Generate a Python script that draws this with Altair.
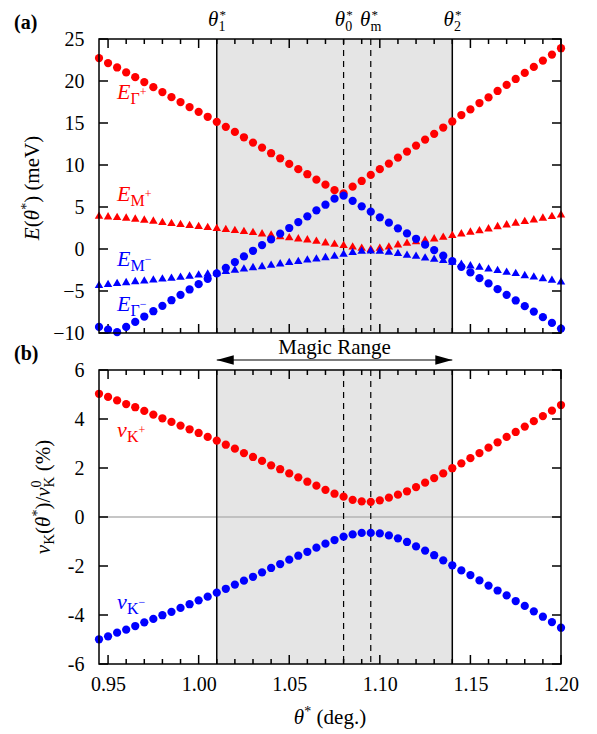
import altair as alt
import pandas as pd

# ---------------- data ----------------
theta_deg = [0.945, 0.950, 0.955, 0.960, 0.965, 0.970, 0.975, 0.980, 0.985, 0.990,
             0.995, 1.000, 1.005, 1.010, 1.015, 1.020, 1.025, 1.030, 1.035, 1.040,
             1.045, 1.050, 1.055, 1.060, 1.065, 1.070, 1.075, 1.080, 1.085, 1.090,
             1.095, 1.100, 1.105, 1.110, 1.115, 1.120, 1.125, 1.130, 1.135, 1.140,
             1.145, 1.150, 1.155, 1.160, 1.165, 1.170, 1.175, 1.180, 1.185, 1.190,
             1.195, 1.200]

E_Gamma_plus = [22.73, 22.13, 21.61, 21.02, 20.46, 19.87, 19.27, 18.68, 18.08, 17.49,
                16.89, 16.33, 15.74, 15.14, 14.54, 13.94, 13.30, 12.67, 12.07, 11.40,
                10.80, 10.13, 9.50, 8.90, 8.25, 7.66, 7.00, 6.63, 7.42, 8.10,
                8.82, 9.50, 10.17, 10.88, 11.60, 12.31, 13.03, 13.71, 14.46, 15.18,
                15.95, 16.62, 17.38, 18.05, 18.81, 19.53, 20.24, 20.96, 21.68, 22.43,
                23.14, 23.90]

E_Gamma_minus = [-9.28, -9.59, -9.90, -9.28, -8.68, -8.04, -7.41, -6.77, -6.10, -5.46,
                 -4.82, -4.19, -3.55, -2.91, -2.24, -1.56, -0.88, -0.21, 0.47, 1.14,
                 1.83, 2.50, 3.20, 3.89, 4.60, 5.27, 5.99, 6.35, 5.73, 5.08,
                 4.44, 3.77, 3.13, 2.46, 1.86, 1.22, 0.52, -0.13, -0.80, -1.44,
                 -2.12, -2.79, -3.47, -4.10, -4.78, -5.46, -6.13, -6.81, -7.45, -8.12,
                 -8.80, -9.47]

E_M_plus = [4.04, 3.96, 3.89, 3.81, 3.69, 3.57, 3.45, 3.29, 3.17, 3.05,
            2.93, 2.82, 2.70, 2.58, 2.46, 2.34, 2.22, 2.10, 1.93, 1.78,
            1.60, 1.47, 1.34, 1.22, 1.06, 0.86, 0.70, 0.55, 0.38, 0.23,
            0.07, 0.23, 0.38, 0.62, 0.82, 1.00, 1.17, 1.34, 1.54, 1.74,
            1.93, 2.14, 2.30, 2.53, 2.80, 3.01, 3.21, 3.41, 3.60, 3.81,
            4.01, 4.20]

E_M_minus = [-4.22, -4.10, -3.98, -3.87, -3.75, -3.67, -3.55, -3.43, -3.35, -3.23,
             -3.11, -2.96, -2.84, -2.72, -2.55, -2.40, -2.24, -2.08, -1.96, -1.80,
             -1.64, -1.48, -1.36, -1.17, -1.05, -0.89, -0.73, -0.49, -0.29, -0.13,
             -0.09, -0.13, -0.25, -0.41, -0.61, -0.73, -0.93, -1.09, -1.24, -1.44,
             -1.70, -1.88, -2.04, -2.24, -2.43, -2.64, -2.79, -3.03, -3.20, -3.39,
             -3.59, -3.80]

v_K_plus = [5.03, 4.90, 4.76, 4.61, 4.48, 4.33, 4.18, 4.03, 3.88, 3.73,
            3.58, 3.43, 3.27, 3.12, 2.95, 2.79, 2.61, 2.45, 2.29, 2.11,
            1.95, 1.78, 1.62, 1.44, 1.28, 1.11, 0.95, 0.83, 0.70, 0.64,
            0.62, 0.68, 0.79, 0.91, 1.05, 1.22, 1.40, 1.59, 1.78, 1.99,
            2.19, 2.40, 2.61, 2.83, 3.05, 3.27, 3.47, 3.69, 3.91, 4.12,
            4.34, 4.57]

v_K_minus = [-4.99, -4.87, -4.72, -4.60, -4.45, -4.30, -4.16, -4.01, -3.87, -3.71,
             -3.56, -3.40, -3.25, -3.09, -2.93, -2.76, -2.60, -2.44, -2.26, -2.08,
             -1.92, -1.74, -1.58, -1.42, -1.25, -1.09, -0.94, -0.80, -0.71, -0.65,
             -0.65, -0.67, -0.75, -0.87, -1.02, -1.20, -1.37, -1.56, -1.77, -1.97,
             -2.18, -2.37, -2.59, -2.80, -3.00, -3.20, -3.43, -3.63, -3.85, -4.07,
             -4.29, -4.52]

theta_solid = [1.01, 1.14]          # theta_1*, theta_2*
theta_dashed = [1.08, 1.095]        # theta_0*, theta_m*
magic_range = [1.01, 1.14]
x_major = [0.95, 1.00, 1.05, 1.10, 1.15, 1.20]
x_minor = [0.96, 0.97, 0.98, 0.99, 1.01, 1.02, 1.03, 1.04, 1.06, 1.07,
           1.08, 1.09, 1.11, 1.12, 1.13, 1.14, 1.16, 1.17, 1.18, 1.19]
yA_ticks = [-10, -5, 0, 5, 10, 15, 20, 25]
yB_ticks = [-6, -4, -2, 0, 2, 4, 6]

# ---------------- style ----------------
W, H = 462, 294
SERIF = "Liberation Serif"
RED, BLUE = "#ff0000", "#0000ff"
SHADE = "#e5e5e5"

xscale = alt.Scale(domain=[0.945, 1.20], nice=False, zero=False)
yscaleA = alt.Scale(domain=[-10, 25], nice=False, zero=False)
yscaleB = alt.Scale(domain=[-6, 6], nice=False, zero=False)

axis_common = dict(labelFont=SERIF, labelFontSize=20, labelColor="black",
                   ticks=False, tickSize=0, domain=False, grid=False, title=None,
                   labelOverlap=False, labelFlush=False)
yaxisA = alt.Axis(values=yA_ticks, labelPadding=15, **axis_common)
yaxisB = alt.Axis(values=yB_ticks, labelPadding=15,
                  labelExpr="datum.value < 0 ? '-' + format(-datum.value, 'd') : format(datum.value, 'd')",
                  **axis_common)
xaxisB = alt.Axis(values=x_major, format=".2f", labelPadding=10, **axis_common)

dummy = pd.DataFrame({"a": [0]})

WID = {
    ("n", " "): 0.25, ("n", "("): 0.333, ("n", ")"): 0.333, ("n", "*"): 0.5,
    ("n", "/"): 0.278, ("n", "%"): 0.833, ("n", "."): 0.25, ("n", "d"): 0.5,
    ("n", "e"): 0.444, ("n", "g"): 0.5, ("n", "m"): 0.778, ("n", "V"): 0.722,
    ("n", "K"): 0.722, ("n", "M"): 0.889, ("n", "Γ"): 0.578, ("n", "+"): 0.564,
    ("n", "−"): 0.564, ("i", "E"): 0.611, ("i", "θ"): 0.5, ("i", "v"): 0.444,
}


def P(t, s, it=False, dy=0, adv=True, ox=0):
    return dict(t=t, s=s, it=it, dy=dy, adv=adv, ox=ox)


def pw(p):
    st = "i" if p["it"] else "n"
    return sum(WID.get((st, ch), 0.5) for ch in p["t"]) * p["s"]


def rich(df, xenc, yenc, pieces, align="center", angle=0, color="black"):
    total = sum(pw(p) for p in pieces if p["adv"])
    cur = -total / 2 if align == "center" else 0.0
    out = []
    for p in pieces:
        txt = p["t"]
        lead = len(txt) - len(txt.lstrip(" "))
        shift = lead * WID[("n", " ")] * p["s"]
        kw = dict(text=txt.lstrip(" "), font=SERIF, fontSize=p["s"], align="left",
                  baseline="alphabetic", color=color, dx=cur + p["ox"] + shift, dy=p["dy"])
        if p["it"]:
            kw["fontStyle"] = "italic"
        if angle:
            kw["angle"] = angle
        out.append(alt.Chart(df).mark_text(**kw).encode(x=xenc, y=yenc))
        if p["adv"]:
            cur += pw(p)
    return out


def panel(yscale, yaxis, xaxis, yticks, circles, triangles, labels, extra_top, extra_under):
    X = lambda f: alt.X(f"{f}:Q", scale=xscale, axis=xaxis)
    Y = lambda f: alt.Y(f"{f}:Q", scale=yscale, axis=yaxis)
    layers = []
    # shaded magic range
    layers.append(alt.Chart(pd.DataFrame({"x0": [magic_range[0]], "x1": [magic_range[1]]}))
                  .mark_rect(color=SHADE)
                  .encode(x=X("x0"), x2="x1:Q", y=alt.value(0), y2=alt.value(H)))
    layers += extra_under(X, Y)
    layers.append(alt.Chart(pd.DataFrame({"x": theta_solid}))
                  .mark_rule(color="black", strokeWidth=1.5)
                  .encode(x=X("x"), y=alt.value(0), y2=alt.value(H)))
    layers.append(alt.Chart(pd.DataFrame({"x": theta_dashed}))
                  .mark_rule(color="black", strokeWidth=1.2, strokeDash=[6, 5])
                  .encode(x=X("x"), y=alt.value(0), y2=alt.value(H)))
    # inward ticks
    for vals, L in ((x_major, 9), (x_minor, 5)):
        d = pd.DataFrame({"x": vals})
        layers.append(alt.Chart(d).mark_rule(color="black", strokeWidth=1.5)
                      .encode(x=X("x"), y=alt.value(0), y2=alt.value(L)))
        layers.append(alt.Chart(d).mark_rule(color="black", strokeWidth=1.5)
                      .encode(x=X("x"), y=alt.value(H), y2=alt.value(H - L)))
    d = pd.DataFrame({"y": yticks})
    layers.append(alt.Chart(d).mark_rule(color="black", strokeWidth=1.5)
                  .encode(y=Y("y"), x=alt.value(0), x2=alt.value(9)))
    layers.append(alt.Chart(d).mark_rule(color="black", strokeWidth=1.5)
                  .encode(y=Y("y"), x=alt.value(W), x2=alt.value(W - 9)))
    # data points
    col = alt.Color("series:N", scale=alt.Scale(domain=["plus", "minus"], range=[RED, BLUE]), legend=None)
    if triangles:
        rows = []
        for name, vals in triangles:
            rows += [{"theta": t, "val": v, "series": name} for t, v in zip(theta_deg, vals)]
        layers.append(alt.Chart(pd.DataFrame(rows))
                      .mark_point(shape="triangle-up", filled=True, size=72, opacity=1)
                      .encode(x=X("theta"), y=Y("val"), color=col))
    rows = []
    for name, vals in circles:
        rows += [{"theta": t, "val": v, "series": name} for t, v in zip(theta_deg, vals)]
    layers.append(alt.Chart(pd.DataFrame(rows))
                  .mark_point(shape="circle", filled=True, size=68, opacity=1)
                  .encode(x=X("theta"), y=Y("val"), color=col))
    # frame
    layers.append(alt.Chart(dummy).mark_rect(filled=False, stroke="black", strokeWidth=1.5)
                  .encode(x=alt.value(0), x2=alt.value(W), y=alt.value(0), y2=alt.value(H)))
    # in-plot labels
    for (lx, ly, pieces, color) in labels:
        layers += rich(pd.DataFrame({"x": [lx], "y": [ly]}), X("x"), Y("y"), pieces,
                       align="left", color=color)
    layers += extra_top(X, Y)
    return alt.layer(*layers).properties(width=W, height=H)


def sub_label(main, sub, sign):
    return [P(main, 22, True), P(sub, 16, dy=5), P(sign, 12, dy=-3)]


# ---------------- panel (a) ----------------
def top_a(X, Y):
    out = []
    out.append(alt.Chart(dummy).mark_text(text="(a)", font=SERIF, fontSize=20, fontWeight="bold",
                                          align="left", baseline="alphabetic", color="black")
               .encode(x=alt.value(-85), y=alt.value(-10)))
    for xv, s in ((1.01, "1"), (1.08, "0"), (1.095, "m"), (1.14, "2")):
        out += rich(pd.DataFrame({"x": [xv]}), X("x"), alt.value(-13),
                    [P("θ", 21, True), P("*", 13, dy=-7, adv=False, ox=1), P(s, 14, dy=5)])
    out += rich(dummy, alt.value(-60), alt.value(H / 2 + 2),
                [P("E", 21, True), P("(", 21), P("θ", 21, True), P("*", 14, dy=-8),
                 P(")", 21), P(" (meV)", 21)], angle=270)
    return out


labels_a = [
    (0.955, 17.9, sub_label("E", "Γ", "+"), RED),
    (0.955, 5.7, sub_label("E", "M", "+"), RED),
    (0.955, -2.0, sub_label("E", "M", "−"), BLUE),
    (0.955, -7.4, sub_label("E", "Γ", "−"), BLUE),
]

panel_a = panel(yscaleA, yaxisA, None, yA_ticks,
                circles=[("plus", E_Gamma_plus), ("minus", E_Gamma_minus)],
                triangles=[("plus", E_M_plus), ("minus", E_M_minus)],
                labels=labels_a, extra_top=top_a, extra_under=lambda X, Y: [])


# ---------------- panel (b) ----------------
def under_b(X, Y):
    return [alt.Chart(pd.DataFrame({"y": [0]})).mark_rule(color="#b3b3b3", strokeWidth=1.5)
            .encode(y=Y("y"), x=alt.value(0), x2=alt.value(W))]


def top_b(X, Y):
    out = []
    out.append(alt.Chart(dummy).mark_text(text="(b)", font=SERIF, fontSize=20, fontWeight="bold",
                                          align="left", baseline="alphabetic", color="black")
               .encode(x=alt.value(-85), y=alt.value(-10)))
    out.append(alt.Chart(pd.DataFrame({"x": [sum(magic_range) / 2]}))
               .mark_text(text="Magic Range", font=SERIF, fontSize=21, align="center",
                          baseline="alphabetic", color="black")
               .encode(x=X("x"), y=alt.value(-16)))
    out.append(alt.Chart(pd.DataFrame({"x0": [magic_range[0]], "x1": [magic_range[1]]}))
               .mark_rule(color="black", strokeWidth=1.2)
               .encode(x=X("x0"), x2="x1:Q", y=alt.value(-10)))
    out.append(alt.Chart(pd.DataFrame({"x": [magic_range[0]]}))
               .mark_point(shape="M0,0L2,-0.55L2,0.55Z", filled=True, size=289, color="black", opacity=1)
               .encode(x=X("x"), y=alt.value(-10)))
    out.append(alt.Chart(pd.DataFrame({"x": [magic_range[1]]}))
               .mark_point(shape="M0,0L-2,-0.55L-2,0.55Z", filled=True, size=289, color="black", opacity=1)
               .encode(x=X("x"), y=alt.value(-10)))
    out += rich(dummy, alt.value(-49), alt.value(H / 2 - 20),
                [P("v", 21, True), P("K", 15, dy=4), P("(", 21), P("θ", 21, True),
                 P("*", 14, dy=-8), P(")", 21), P("/", 21), P("v", 21, True),
                 P("0", 14, dy=-9, adv=False), P("K", 15, dy=4), P(" (%)", 21)], angle=270)
    out += rich(dummy, alt.value(W / 2), alt.value(H + 60),
                [P("θ", 21, True), P("*", 14, dy=-8), P(" (deg.)", 21)])
    return out


labels_b = [
    (0.955, 3.25, [P("v", 22, True), P("K", 16, dy=5), P("+", 12, dy=-3)], RED),
    (0.955, -3.75, [P("v", 22, True), P("K", 16, dy=5), P("−", 12, dy=-3)], BLUE),
]

panel_b = panel(yscaleB, yaxisB, xaxisB, yB_ticks,
                circles=[("plus", v_K_plus), ("minus", v_K_minus)],
                triangles=None, labels=labels_b, extra_top=top_b, extra_under=under_b)

chart = (alt.vconcat(panel_a, panel_b, spacing=37, bounds="flush")
         .properties(padding={"left": 5, "top": 0, "right": 5, "bottom": 5}, background="white")
         .configure_view(stroke="transparent"))

chart.save("out.html", embed_options={"renderer": "svg", "actions": False})
